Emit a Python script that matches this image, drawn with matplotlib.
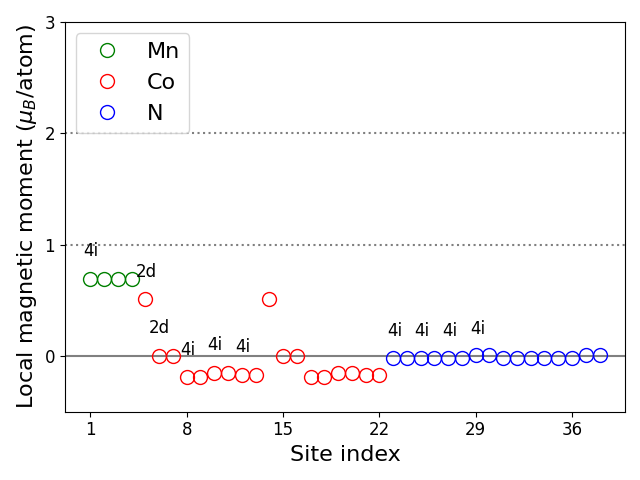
import numpy as np
import matplotlib.pyplot as plt

mn_sites = [1, 2, 3, 4]
mn_moments = [0.69, 0.69, 0.69, 0.69]

co_sites = list(range(5, 23))
co_moments = [0.51, 0.0, 0.0, -0.19, -0.19, -0.15, -0.15, -0.17, -0.17,
              0.51, 0.0, 0.0, -0.19, -0.19, -0.15, -0.15, -0.17, -0.17]

n_sites = list(range(23, 39))
n_moments = [-0.02, -0.02, -0.02, -0.02, -0.02, -0.02, 0.01, 0.01,
             -0.02, -0.02, -0.02, -0.02, -0.02, -0.02, 0.01, 0.01]

wyckoff_labels = ['4i', '2d', '2d', '4i', '4i', '4i', '4i', '4i', '4i', '4i']
label_x = [0.5, 4.3, 5.25, 7.5, 9.5, 11.55, 22.55, 24.57, 26.57, 28.58]
label_y = [0.9, 0.71, 0.21, 0.01, 0.05, 0.04, 0.18, 0.18, 0.18, 0.2]

xticks = [1, 8, 15, 22, 29, 36]
yticks = [0, 1, 2, 3]

plt.figure(figsize=(6.4, 4.8))
plt.plot(mn_sites, mn_moments, 'o', mfc='none', mec='green', ms=10, label='Mn')
plt.plot(co_sites, co_moments, 'o', mfc='none', mec='red', ms=10, label='Co')
plt.plot(n_sites, n_moments, 'o', mfc='none', mec='blue', ms=10, label='N')

plt.axhline(0, color='gray', lw=1.5, zorder=0)
plt.axhline(1, color='gray', ls=':', lw=1.5, zorder=0)
plt.axhline(2, color='gray', ls=':', lw=1.5, zorder=0)

for lab, x, y in zip(wyckoff_labels, label_x, label_y):
    plt.text(x, y, lab, fontsize=12)

plt.ylim(-0.5, 3)
plt.xticks(xticks, fontsize=12)
plt.yticks(yticks, fontsize=12)
plt.xlabel('Site index', fontsize=16)
plt.ylabel(r'Local magnetic moment ($\mu_B$/atom)', fontsize=16)
plt.legend(fontsize=16, loc='upper left')
plt.tight_layout()
plt.savefig('out.png', dpi=100)
